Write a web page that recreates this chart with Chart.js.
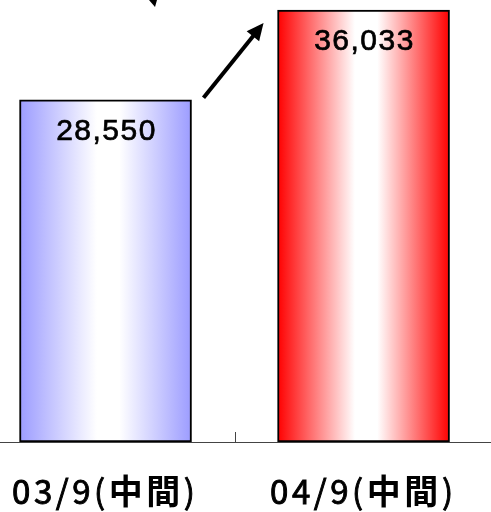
<!DOCTYPE html>
<html>
<head>
<meta charset="utf-8">
<script src="https://cdn.jsdelivr.net/npm/chart.js@4.4.0/dist/chart.umd.min.js"></script>
<style>
  html, body { margin: 0; padding: 0; background: #fff; }
  canvas { display: block; }
</style>
</head>
<body>
<canvas id="grafica" width="491" height="512"></canvas>
<script>
// datos
const categorias = ["03/9(中間)", "04/9(中間)"];
const valores = [28550, 36033];
const etiquetasValor = ["28,550", "36,033"];
const coloresBorde = ["rgb(156,156,255)", "rgb(255,0,0)"];

const Y_MAX = 36870;
const X_MIN = -0.409;
const X_MAX = 1.494;
const ANCHO_BARRA = 172;

function degradado(context) {
  const chart = context.chart;
  const i = context.dataIndex;
  if (!chart.chartArea || i === undefined) return coloresBorde[i || 0];
  const cx = chart.scales.x.getPixelForValue(i);
  const g = chart.ctx.createLinearGradient(cx - ANCHO_BARRA / 2, 0, cx + ANCHO_BARRA / 2, 0);
  const borde = coloresBorde[i];
  g.addColorStop(0, borde);
  g.addColorStop(0.45, "#ffffff");
  g.addColorStop(0.58, "#ffffff");
  g.addColorStop(1, borde);
  return g;
}

// texto con trazo fino para que se vea mas grueso
function textoGrueso(ctx, t, x, y, grosor) {
  ctx.fillText(t, x, y);
  ctx.lineWidth = grosor;
  ctx.strokeText(t, x, y);
}

const extras = {
  id: "extras",
  afterDraw(chart) {
    const ctx = chart.ctx;
    const area = chart.chartArea;
    const meta = chart.getDatasetMeta(0);
    ctx.save();

    // eje horizontal
    ctx.strokeStyle = "#444";
    ctx.lineWidth = 1;
    ctx.beginPath();
    ctx.moveTo(0, area.bottom + 0.5);
    ctx.lineTo(chart.width, area.bottom + 0.5);
    const tx = Math.round(chart.scales.x.getPixelForValue(0.5)) + 0.5;
    ctx.moveTo(tx, area.bottom - 10);
    ctx.lineTo(tx, area.bottom);
    ctx.stroke();

    // valores dentro de las barras
    ctx.fillStyle = "#000";
    ctx.strokeStyle = "#000";
    ctx.font = "30px 'Liberation Sans', Arial, sans-serif";
    ctx.letterSpacing = "1.5px";
    ctx.textAlign = "center";
    ctx.textBaseline = "alphabetic";
    meta.data.forEach((bar, i) => {
      textoGrueso(ctx, etiquetasValor[i], bar.x + 1, bar.y + 40, 0.7);
    });
    ctx.letterSpacing = "0px";

    // flecha
    const a = meta.data[0], b = meta.data[1];
    const x1 = a.x + ANCHO_BARRA / 2 + 12, y1 = a.y - 2;
    const x2 = b.x - ANCHO_BARRA / 2 - 14, y2 = b.y + 13;
    const ang = Math.atan2(y2 - y1, x2 - x1);
    const largo = 17, medio = 8;
    ctx.lineWidth = 4;
    ctx.beginPath();
    ctx.moveTo(x1, y1);
    ctx.lineTo(x2 - Math.cos(ang) * largo * 0.8, y2 - Math.sin(ang) * largo * 0.8);
    ctx.stroke();
    ctx.beginPath();
    ctx.moveTo(x2, y2);
    ctx.lineTo(x2 - Math.cos(ang) * largo + Math.sin(ang) * medio, y2 - Math.sin(ang) * largo - Math.cos(ang) * medio);
    ctx.lineTo(x2 - Math.cos(ang) * largo - Math.sin(ang) * medio, y2 - Math.sin(ang) * largo + Math.cos(ang) * medio);
    ctx.closePath();
    ctx.fill();

    // punta de flecha cortada arriba
    ctx.beginPath();
    ctx.moveTo(149, 0);
    ctx.lineTo(157, 0);
    ctx.lineTo(155, 7);
    ctx.closePath();
    ctx.fill();

    // etiquetas de categoria
    const anchoTotal = 183;
    ctx.textAlign = "left";
    categorias.forEach((txt, i) => {
      const chars = Array.from(txt);
      const cjk = chars.map(c => /[\u3000-\u9fff]/.test(c));
      const fuentes = cjk.map(es => es
        ? "bold 34px 'Noto Sans CJK JP', sans-serif"
        : "33px 'Noto Sans CJK JP', sans-serif");
      let natural = 0;
      const anchos = chars.map((c, k) => { ctx.font = fuentes[k]; const w = ctx.measureText(c).width; natural += w; return w; });
      const esp = (anchoTotal - natural) / (chars.length - 1);
      let x = chart.scales.x.getPixelForValue(i) - 2 - anchoTotal / 2;
      chars.forEach((c, k) => {
        ctx.font = fuentes[k];
        if (cjk[k]) ctx.fillText(c, x, 504);
        else textoGrueso(ctx, c, x, 504, 0.9);
        x += anchos[k] + esp;
      });
    });
    ctx.restore();
  }
};

new Chart(document.getElementById("grafica"), {
  type: "bar",
  data: {
    datasets: [{
      data: valores.map((v, i) => ({ x: i, y: v })),
      backgroundColor: degradado,
      borderColor: "#000",
      borderWidth: 2,
      borderSkipped: false,
      barThickness: ANCHO_BARRA
    }]
  },
  options: {
    responsive: false,
    animation: false,
    layout: { padding: { left: 0, right: 0, top: 0, bottom: 70 } },
    plugins: { legend: { display: false }, tooltip: { enabled: false } },
    scales: {
      x: { type: "linear", min: X_MIN, max: X_MAX, offset: false, display: false },
      y: { min: 0, max: Y_MAX, display: false }
    }
  },
  plugins: [extras]
});
</script>
</body>
</html>
